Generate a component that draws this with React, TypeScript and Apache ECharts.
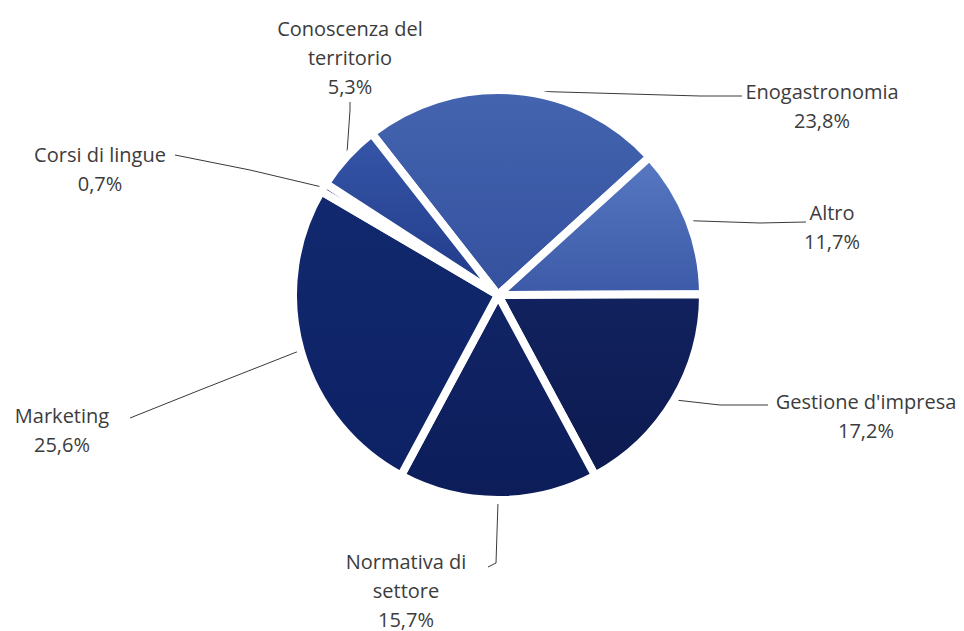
import React, { useEffect, useRef } from "react";
import * as echarts from "echarts";

const categories = [
  "Enogastronomia",
  "Altro",
  "Gestione d'impresa",
  "Normativa di settore",
  "Marketing",
  "Corsi di lingue",
  "Conoscenza del territorio",
];
const labelNames = [
  "Enogastronomia",
  "Altro",
  "Gestione d'impresa",
  "Normativa di\nsettore",
  "Marketing",
  "Corsi di lingue",
  "Conoscenza del\nterritorio",
];
const shares = [23.8, 11.7, 17.2, 15.7, 25.6, 0.7, 5.3];

// layout (label centres and leader-line end points), not data
const labelCentres: [number, number][] = [
  [822, 106],
  [832, 227],
  [866, 416],
  [406, 590],
  [62, 430],
  [100, 169],
  [350, 57],
];
const lineEnds: [number, number][][] = [
  [[700, 96], [742, 96]],
  [[760, 223], [806, 222]],
  [[720, 405], [768, 405]],
  [[496, 563], [488, 567]],
  [[200, 390], [130, 418]],
  [[250, 170], [175, 155]],
  [[350, 110], [350, 102]],
];
const colours: [string, string][] = [
  ["#4464b0", "#34519e"],
  ["#5878c2", "#3c5aa7"],
  ["#12225e", "#0c1a50"],
  ["#112465", "#0c1d5a"],
  ["#12296f", "#0d2164"],
  ["#0e1d56", "#0a1648"],
  ["#3656a8", "#213a88"],
];

export default function App() {
  const ref = useRef<HTMLDivElement>(null);
  useEffect(() => {
    if (!ref.current) return;
    const chart = echarts.init(ref.current, undefined, { renderer: "svg" });
    chart.setOption({
      animation: false,
      backgroundColor: "#ffffff",
      series: [
        {
          type: "pie",
          center: [498, 295],
          radius: [0, 205],
          startAngle: 128,
          clockwise: true,
          avoidLabelOverlap: false,
          itemStyle: { borderColor: "#ffffff", borderWidth: 8 },
          label: {
            show: true,
            position: "outside",
            fontFamily: "'Open Sans', Lato, sans-serif",
            fontSize: 20,
            lineHeight: 29,
            color: "#3c3c3c",
            align: "center",
            formatter: (p: any) =>
              labelNames[p.dataIndex] + "\n" + shares[p.dataIndex].toFixed(1).replace(".", ",") + "%",
          },
          labelLine: {
            show: true,
            length: 20,
            length2: 20,
            lineStyle: { color: "#3a3a3a", width: 1 },
          },
          labelLayout: (params: any) => {
            const i = params.dataIndex;
            const pts = params.labelLinePoints;
            const start = pts && pts[0] ? pts[0] : lineEnds[i][0];
            return {
              x: labelCentres[i][0],
              y: labelCentres[i][1],
              align: "center",
              verticalAlign: "middle",
              labelLinePoints: [start, lineEnds[i][0], lineEnds[i][1]],
            };
          },
          data: categories.map((name, i) => ({
            name,
            value: shares[i],
            itemStyle: {
              color: new echarts.graphic.LinearGradient(0, 0, 0, 1, [
                { offset: 0, color: colours[i][0] },
                { offset: 1, color: colours[i][1] },
              ]),
            },
          })),
        },
      ],
    });
    return () => chart.dispose();
  }, []);
  return (
    <div
      ref={ref}
      style={{ position: "fixed", left: 0, top: 0, width: 964, height: 631 }}
    />
  );
}
